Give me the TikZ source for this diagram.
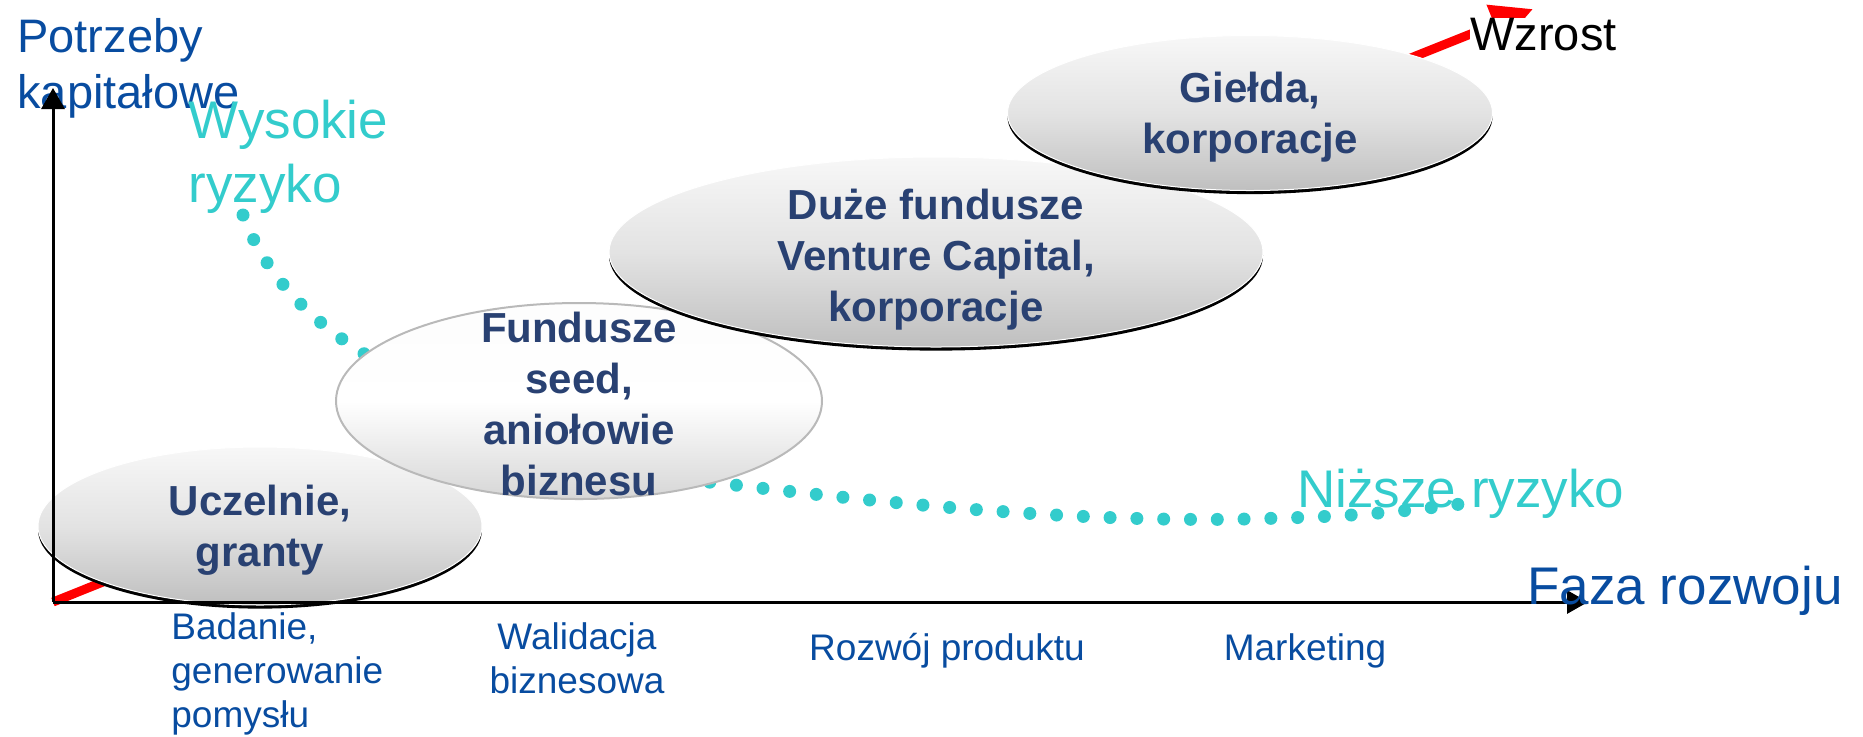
\documentclass[tikz,border=0pt]{standalone}
\usepackage{fontspec}
\setmainfont{Liberation Sans}
\usetikzlibrary{arrows.meta, shapes.geometric, shadows}
\definecolor{axisblue}{RGB}{8,76,160}
\definecolor{risk}{RGB}{51,204,204}
\definecolor{bubbleink}{RGB}{41,65,114}

\begin{document}
\begin{tikzpicture}[x=0.5pt, y=-0.5pt,
    >={Triangle[length=10.5pt, width=11.5pt]},
    every node/.style={inner sep=0pt},
    axisline/.style={->, line width=1.5pt, black},
    growth/.style={-{Triangle[length=20.8pt, width=20pt]}, line width=4.5pt, red},
    riskline/.style={risk, line width=6.5pt, line cap=round, dash pattern=on 0pt off 13.4pt},
    bubble/.style={ellipse, draw=white, line width=0.5pt,
                   top color=gray!6, bottom color=gray!50, middle color=gray!22,
                   drop shadow={shadow xshift=0pt, shadow yshift=-1.8pt, fill=black, opacity=1}},
    seedbubble/.style={ellipse, draw=gray!55, line width=1pt,
                   top color=gray!2, bottom color=gray!32, middle color=white},
    bubbletext/.style={font=\fontsize{21}{25.5}\selectfont\bfseries, text=bubbleink, align=center},
    needslabel/.style={font=\fontsize{23.5}{28}\selectfont, text=axisblue, align=left},
    risklabel/.style={font=\fontsize{26.5}{32}\selectfont, text=risk, align=left},
    phase/.style={font=\fontsize{18.5}{22}\selectfont, text=axisblue},
]
\useasboundingbox (0,0) rectangle (1863,736);
% axis corners
\coordinate (O) at (53,602);
\coordinate (ytip) at (53,88);
\coordinate (xtip) at (1588,602);
\coordinate (growthtip) at (1533,9);
% growth arrow, behind everything
\draw[growth] (O) -- (growthtip);
% risk curve
\coordinate (riskhigh) at (243,215);
\coordinate (risklow) at (1469,503);
\draw[riskline] (riskhigh) .. controls (265,275) and (310,320) .. (363,353)
   .. controls (513,460) and (568,468) .. (718,483)
   .. controls (900,505) and (1100,525) .. (1280,518)
   .. controls (1370,516) and (1420,509) .. (risklow);
% funding stages
\node[bubble, minimum width=222pt, minimum height=79pt] (uczelnie) at (260,526) {};
\node[seedbubble, minimum width=243pt, minimum height=98pt] (seed) at (579,401) {};
\node[bubble, minimum width=327pt, minimum height=95pt] (duze) at (936,252) {};
\node[bubble, minimum width=242.5pt, minimum height=77.5pt] (gielda) at (1250,113) {};
\node[bubbletext] at ([yshift=-2pt]uczelnie.center) {Uczelnie,\\granty};
\node[bubbletext] at ([yshift=-1.5pt]seed.center) {Fundusze\\seed,\\aniołowie\\biznesu};
\node[bubbletext] at ([yshift=-4pt]duze.center) {Duże fundusze\\Venture Capital,\\korporacje};
\node[bubbletext] at ([yshift=-2pt]gielda.center) {Giełda,\\korporacje};
% y axis title sits under the arrow tip
\node[needslabel, anchor=base west] (needs) at (17,108) {Potrzeby\\kapitałowe};
% axes
\draw[axisline] (O) -- (ytip);
\draw[axisline] (O) -- (xtip);
% labels (base = last line)
\node[risklabel, anchor=base west] (highrisk) at (188,202) {Wysokie\\ryzyko};
\node[risklabel, anchor=base west] (lowrisk) at (1297,507) {Niższe ryzyko};
\node[font=\fontsize{26.5}{32}\selectfont, text=axisblue, anchor=base west] (faza) at (1527,604) {Faza rozwoju};
\node[font=\fontsize{23.5}{28}\selectfont, fill=white, anchor=base west] (wzrost) at (1470,50) {Wzrost};
% phases under the axis
\node[phase, align=left, anchor=base west] (badanie) at (171,727) {Badanie,\\generowanie\\pomysłu};
\node[phase, align=center, anchor=base] (walidacja) at (577,693) {Walidacja\\biznesowa};
\node[phase, anchor=base] (rozwoj) at (947,660) {Rozwój produktu};
\node[phase, anchor=base] (marketing) at (1305,660) {Marketing};
\end{tikzpicture}
\end{document}
